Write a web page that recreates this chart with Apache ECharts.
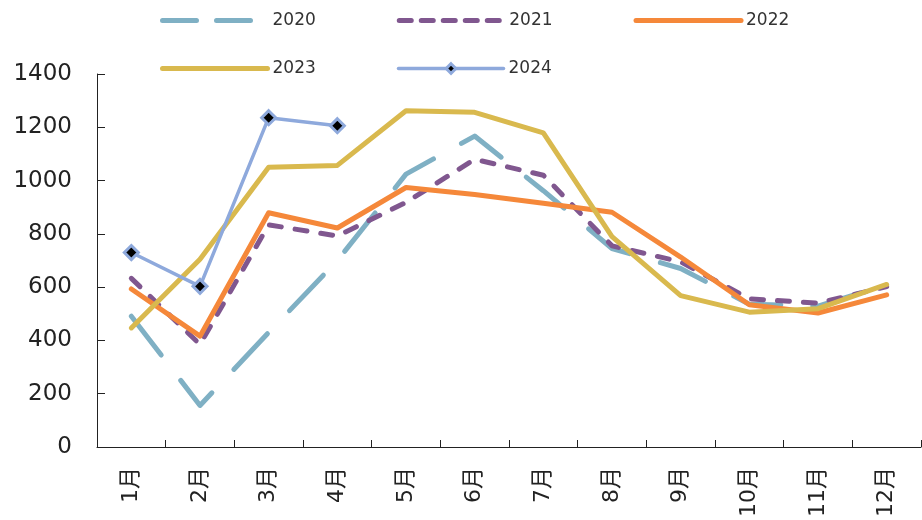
<!DOCTYPE html>
<html>
<head>
<meta charset="utf-8">
<script src="https://cdn.jsdelivr.net/npm/echarts@6/dist/echarts.min.js"></script>
<style>
  html, body { margin: 0; padding: 0; background: #fff; }
  #chart { width: 922px; height: 520px; }
</style>
</head>
<body>
<div id="chart"></div>
<script>
// Monthly values per year
const months = ['1月', '2月', '3月', '4月', '5月', '6月', '7月', '8月', '9月', '10月', '11月', '12月'];
const y2020 = [491, 156, 430, 700, 1024, 1167, 962, 745, 670, 536, 529, 608];
const y2021 = [633, 385, 834, 792, 918, 1080, 1020, 755, 695, 556, 540, 602];
const y2022 = [593, 416, 879, 822, 974, 948, 915, 881, 713, 534, 503, 571];
const y2023 = [447, 705, 1050, 1057, 1262, 1256, 1179, 790, 568, 506, 519, 610];
const y2024 = [730, 603, 1236, 1206];
const yTicks = { min: 0, max: 1400, interval: 200 };

const FONT = 'DejaVu Sans, Noto Sans CJK SC, sans-serif';
const C2020 = '#7fb0c4';
const C2021 = '#80578f';
const C2022 = '#f5883a';
const C2023 = '#d9b94e';
const C2024 = '#8ea9dc';
const DASH2020 = [49, 32];
const DASH2021 = [12, 14];

function lineSeries(name, data, color, width, type, extra) {
  return Object.assign({
    name: name,
    type: 'line',
    data: data,
    symbol: 'none',
    showSymbol: false,
    smooth: false,
    lineStyle: { color: color, width: width, type: type, cap: 'round', join: 'round' },
    itemStyle: { color: color },
    emphasis: { disabled: true }
  }, extra || {});
}

// Legend entry: plain line icon (symbol hidden) unless a marker is given
function legendItem(name, color, width, type, marker) {
  return {
    name: name,
    itemStyle: marker ? marker : { opacity: 0 },
    lineStyle: { color: color, width: width, type: type, cap: 'round', opacity: 1 }
  };
}

const legendCommon = {
  orient: 'horizontal',
  padding: 0,
  itemWidth: 105,
  itemHeight: 12,
  itemGap: 81,
  textStyle: { fontFamily: FONT, fontSize: 17, color: '#333' },
  selectedMode: false
};

const marker2024 = { color: '#000', borderColor: C2024, borderWidth: 3 };

const chart = echarts.init(document.getElementById('chart'), null, { renderer: 'canvas' });
chart.setOption({
  animation: false,
  backgroundColor: '#fff',
  legend: [
    Object.assign({
      data: [
        legendItem('2020', C2020, 5, [34, 20]),
        legendItem('2021', C2021, 5, [12, 10]),
        legendItem('2022', C2022, 5, 'solid')
      ],
      left: 160, top: 12
    }, legendCommon),
    Object.assign({
      data: [
        legendItem('2023', C2023, 5, 'solid'),
        legendItem('2024', C2024, 3.5, 'solid', marker2024)
      ],
      left: 160, top: 60
    }, legendCommon)
  ],
  grid: { left: 97, right: 1, top: 74, bottom: 70, containLabel: false },
  xAxis: {
    type: 'category',
    data: months,
    boundaryGap: true,
    axisLine: { lineStyle: { color: '#222', width: 1 } },
    axisTick: { show: true, inside: true, length: 7, alignWithLabel: false, lineStyle: { color: '#222' } },
    axisLabel: { rotate: 90, margin: 20, fontFamily: FONT, fontSize: 22, color: '#222' },
    splitLine: { show: false }
  },
  yAxis: {
    type: 'value',
    min: yTicks.min,
    max: yTicks.max,
    interval: yTicks.interval,
    axisLine: { show: true, lineStyle: { color: '#222', width: 1 } },
    axisTick: { show: true, inside: true, length: 8, lineStyle: { color: '#222' } },
    axisLabel: { margin: 25, fontFamily: FONT, fontSize: 23, color: '#222', formatter: function (v) { return String(v); } },
    splitLine: { show: false }
  },
  series: [
    lineSeries('2020', y2020, C2020, 5, DASH2020),
    lineSeries('2021', y2021, C2021, 5, DASH2021),
    lineSeries('2022', y2022, C2022, 5, 'solid'),
    lineSeries('2023', y2023, C2023, 5, 'solid'),
    lineSeries('2024', y2024, C2024, 3.5, 'solid', {
      symbol: 'diamond',
      showSymbol: true,
      symbolSize: 14,
      itemStyle: marker2024
    })
  ]
});
</script>
</body>
</html>
